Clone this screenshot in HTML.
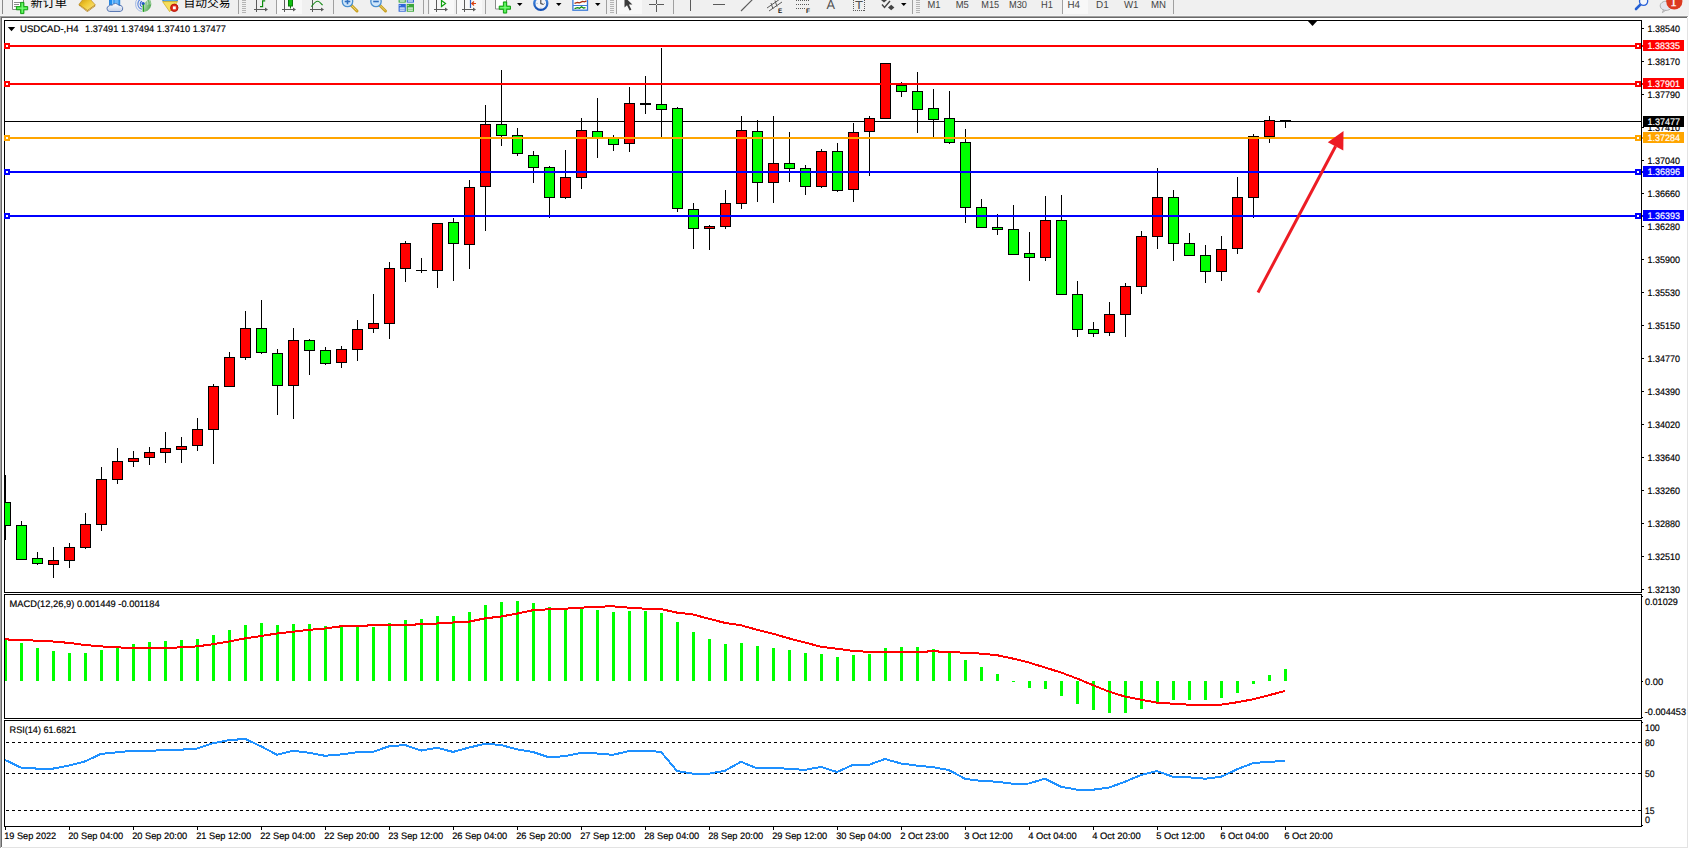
<!DOCTYPE html>
<html lang="zh"><head><meta charset="utf-8"><title>USDCAD-,H4</title>
<style>html,body{margin:0;padding:0;background:#fff}body{width:1689px;height:849px;overflow:hidden;position:relative}text{white-space:pre}</style></head>
<body>
<svg width="1689" height="849" viewBox="0 0 1689 849" font-family='"Liberation Sans", "Noto Sans CJK SC", sans-serif' text-rendering="geometricPrecision" style="position:absolute;left:0;top:0;display:block">
<defs><clipPath id="tbclip"><rect x="0" y="0" width="1689" height="15"/></clipPath><clipPath id="mainclip"><rect x="5" y="21" width="1636" height="571"/></clipPath></defs>
<rect x="0" y="0" width="1689" height="849" fill="#fff"/>
<g shape-rendering="crispEdges">
<rect x="0" y="0" width="1689" height="15" fill="#f0f0f0"/>
<rect x="0" y="15" width="1689" height="1" fill="#f4f4f4"/>
<rect x="0" y="16" width="1688" height="1" fill="#a0a0a0"/>
<rect x="0" y="17" width="1687" height="1" fill="#696969"/>
</g>
<g shape-rendering="crispEdges">
<rect x="0" y="16" width="1" height="832" fill="#a5a5a5"/>
<rect x="1" y="17" width="1" height="830" fill="#696969"/>
<rect x="1687" y="18" width="1" height="830" fill="#e3e3e3"/>
<rect x="2" y="847" width="1686" height="1" fill="#e3e3e3"/>
<rect x="4" y="20" width="1638" height="1" fill="#000"/>
<rect x="4" y="592" width="1638" height="1" fill="#000"/>
<rect x="4" y="20" width="1" height="573" fill="#000"/>
<rect x="1641" y="20" width="1" height="573" fill="#000"/>
<rect x="4" y="594" width="1638" height="1" fill="#000"/>
<rect x="4" y="718" width="1638" height="1" fill="#000"/>
<rect x="4" y="594" width="1" height="125" fill="#000"/>
<rect x="1641" y="594" width="1" height="125" fill="#000"/>
<rect x="4" y="720" width="1638" height="1" fill="#000"/>
<rect x="4" y="826" width="1638" height="1" fill="#000"/>
<rect x="4" y="720" width="1" height="107" fill="#000"/>
<rect x="1641" y="720" width="1" height="107" fill="#000"/>
</g>
<g shape-rendering="crispEdges">
<rect x="5" y="121" width="1636" height="1" fill="#000"/>
<polygon points="1307,20 1318,20 1312.5,26" fill="#000" shape-rendering="geometricPrecision"/>
<g clip-path="url(#mainclip)">
<rect x="5" y="475" width="1" height="65" fill="#000"/>
<rect x="0" y="502" width="11" height="24" fill="#000"/>
<rect x="1" y="503" width="9" height="22" fill="#00ff00"/>
<rect x="21" y="521" width="1" height="39" fill="#000"/>
<rect x="16" y="525" width="11" height="35" fill="#000"/>
<rect x="17" y="526" width="9" height="33" fill="#00ff00"/>
<rect x="37" y="552" width="1" height="13" fill="#000"/>
<rect x="32" y="558" width="11" height="6" fill="#000"/>
<rect x="33" y="559" width="9" height="4" fill="#00ff00"/>
<rect x="53" y="547" width="1" height="31" fill="#000"/>
<rect x="48" y="560" width="11" height="5" fill="#000"/>
<rect x="49" y="561" width="9" height="3" fill="#ff0000"/>
<rect x="69" y="543" width="1" height="25" fill="#000"/>
<rect x="64" y="547" width="11" height="14" fill="#000"/>
<rect x="65" y="548" width="9" height="12" fill="#ff0000"/>
<rect x="85" y="513" width="1" height="36" fill="#000"/>
<rect x="80" y="524" width="11" height="24" fill="#000"/>
<rect x="81" y="525" width="9" height="22" fill="#ff0000"/>
<rect x="101" y="467" width="1" height="64" fill="#000"/>
<rect x="96" y="479" width="11" height="46" fill="#000"/>
<rect x="97" y="480" width="9" height="44" fill="#ff0000"/>
<rect x="117" y="448" width="1" height="36" fill="#000"/>
<rect x="112" y="461" width="11" height="19" fill="#000"/>
<rect x="113" y="462" width="9" height="17" fill="#ff0000"/>
<rect x="133" y="451" width="1" height="16" fill="#000"/>
<rect x="128" y="458" width="11" height="4" fill="#000"/>
<rect x="129" y="459" width="9" height="2" fill="#ff0000"/>
<rect x="149" y="447" width="1" height="18" fill="#000"/>
<rect x="144" y="452" width="11" height="6" fill="#000"/>
<rect x="145" y="453" width="9" height="4" fill="#ff0000"/>
<rect x="165" y="432" width="1" height="31" fill="#000"/>
<rect x="160" y="448" width="11" height="5" fill="#000"/>
<rect x="161" y="449" width="9" height="3" fill="#ff0000"/>
<rect x="181" y="437" width="1" height="26" fill="#000"/>
<rect x="176" y="446" width="11" height="4" fill="#000"/>
<rect x="177" y="447" width="9" height="2" fill="#ff0000"/>
<rect x="197" y="418" width="1" height="33" fill="#000"/>
<rect x="192" y="429" width="11" height="17" fill="#000"/>
<rect x="193" y="430" width="9" height="15" fill="#ff0000"/>
<rect x="213" y="384" width="1" height="80" fill="#000"/>
<rect x="208" y="386" width="11" height="44" fill="#000"/>
<rect x="209" y="387" width="9" height="42" fill="#ff0000"/>
<rect x="229" y="352" width="1" height="35" fill="#000"/>
<rect x="224" y="357" width="11" height="30" fill="#000"/>
<rect x="225" y="358" width="9" height="28" fill="#ff0000"/>
<rect x="245" y="311" width="1" height="49" fill="#000"/>
<rect x="240" y="328" width="11" height="30" fill="#000"/>
<rect x="241" y="329" width="9" height="28" fill="#ff0000"/>
<rect x="261" y="300" width="1" height="54" fill="#000"/>
<rect x="256" y="328" width="11" height="25" fill="#000"/>
<rect x="257" y="329" width="9" height="23" fill="#00ff00"/>
<rect x="277" y="349" width="1" height="66" fill="#000"/>
<rect x="272" y="353" width="11" height="33" fill="#000"/>
<rect x="273" y="354" width="9" height="31" fill="#00ff00"/>
<rect x="293" y="328" width="1" height="91" fill="#000"/>
<rect x="288" y="340" width="11" height="46" fill="#000"/>
<rect x="289" y="341" width="9" height="44" fill="#ff0000"/>
<rect x="309" y="339" width="1" height="36" fill="#000"/>
<rect x="304" y="340" width="11" height="11" fill="#000"/>
<rect x="305" y="341" width="9" height="9" fill="#00ff00"/>
<rect x="325" y="347" width="1" height="18" fill="#000"/>
<rect x="320" y="350" width="11" height="14" fill="#000"/>
<rect x="321" y="351" width="9" height="12" fill="#00ff00"/>
<rect x="341" y="346" width="1" height="22" fill="#000"/>
<rect x="336" y="349" width="11" height="14" fill="#000"/>
<rect x="337" y="350" width="9" height="12" fill="#ff0000"/>
<rect x="357" y="320" width="1" height="41" fill="#000"/>
<rect x="352" y="329" width="11" height="21" fill="#000"/>
<rect x="353" y="330" width="9" height="19" fill="#ff0000"/>
<rect x="373" y="294" width="1" height="39" fill="#000"/>
<rect x="368" y="323" width="11" height="6" fill="#000"/>
<rect x="369" y="324" width="9" height="4" fill="#ff0000"/>
<rect x="389" y="262" width="1" height="77" fill="#000"/>
<rect x="384" y="268" width="11" height="56" fill="#000"/>
<rect x="385" y="269" width="9" height="54" fill="#ff0000"/>
<rect x="405" y="241" width="1" height="41" fill="#000"/>
<rect x="400" y="243" width="11" height="26" fill="#000"/>
<rect x="401" y="244" width="9" height="24" fill="#ff0000"/>
<rect x="421" y="258" width="1" height="15" fill="#000"/>
<rect x="416" y="270" width="11" height="1" fill="#000"/>
<rect x="437" y="223" width="1" height="65" fill="#000"/>
<rect x="432" y="223" width="11" height="48" fill="#000"/>
<rect x="433" y="224" width="9" height="46" fill="#ff0000"/>
<rect x="453" y="218" width="1" height="63" fill="#000"/>
<rect x="448" y="222" width="11" height="22" fill="#000"/>
<rect x="449" y="223" width="9" height="20" fill="#00ff00"/>
<rect x="469" y="180" width="1" height="89" fill="#000"/>
<rect x="464" y="187" width="11" height="58" fill="#000"/>
<rect x="465" y="188" width="9" height="56" fill="#ff0000"/>
<rect x="485" y="105" width="1" height="126" fill="#000"/>
<rect x="480" y="124" width="11" height="63" fill="#000"/>
<rect x="481" y="125" width="9" height="61" fill="#ff0000"/>
<rect x="501" y="70" width="1" height="76" fill="#000"/>
<rect x="496" y="124" width="11" height="12" fill="#000"/>
<rect x="497" y="125" width="9" height="10" fill="#00ff00"/>
<rect x="517" y="128" width="1" height="28" fill="#000"/>
<rect x="512" y="135" width="11" height="19" fill="#000"/>
<rect x="513" y="136" width="9" height="17" fill="#00ff00"/>
<rect x="533" y="151" width="1" height="32" fill="#000"/>
<rect x="528" y="155" width="11" height="13" fill="#000"/>
<rect x="529" y="156" width="9" height="11" fill="#00ff00"/>
<rect x="549" y="166" width="1" height="52" fill="#000"/>
<rect x="544" y="167" width="11" height="31" fill="#000"/>
<rect x="545" y="168" width="9" height="29" fill="#00ff00"/>
<rect x="565" y="150" width="1" height="49" fill="#000"/>
<rect x="560" y="177" width="11" height="21" fill="#000"/>
<rect x="561" y="178" width="9" height="19" fill="#ff0000"/>
<rect x="581" y="118" width="1" height="71" fill="#000"/>
<rect x="576" y="130" width="11" height="48" fill="#000"/>
<rect x="577" y="131" width="9" height="46" fill="#ff0000"/>
<rect x="597" y="98" width="1" height="60" fill="#000"/>
<rect x="592" y="131" width="11" height="7" fill="#000"/>
<rect x="593" y="132" width="9" height="5" fill="#00ff00"/>
<rect x="613" y="135" width="1" height="16" fill="#000"/>
<rect x="608" y="137" width="11" height="8" fill="#000"/>
<rect x="609" y="138" width="9" height="6" fill="#00ff00"/>
<rect x="629" y="87" width="1" height="65" fill="#000"/>
<rect x="624" y="103" width="11" height="41" fill="#000"/>
<rect x="625" y="104" width="9" height="39" fill="#ff0000"/>
<rect x="645" y="76" width="1" height="38" fill="#000"/>
<rect x="640" y="103" width="11" height="2" fill="#000"/>
<rect x="661" y="48" width="1" height="89" fill="#000"/>
<rect x="656" y="104" width="11" height="6" fill="#000"/>
<rect x="657" y="105" width="9" height="4" fill="#00ff00"/>
<rect x="677" y="107" width="1" height="105" fill="#000"/>
<rect x="672" y="108" width="11" height="101" fill="#000"/>
<rect x="673" y="109" width="9" height="99" fill="#00ff00"/>
<rect x="693" y="203" width="1" height="46" fill="#000"/>
<rect x="688" y="209" width="11" height="20" fill="#000"/>
<rect x="689" y="210" width="9" height="18" fill="#00ff00"/>
<rect x="709" y="225" width="1" height="25" fill="#000"/>
<rect x="704" y="226" width="11" height="3" fill="#000"/>
<rect x="705" y="227" width="9" height="1" fill="#ff0000"/>
<rect x="725" y="190" width="1" height="39" fill="#000"/>
<rect x="720" y="203" width="11" height="24" fill="#000"/>
<rect x="721" y="204" width="9" height="22" fill="#ff0000"/>
<rect x="741" y="116" width="1" height="93" fill="#000"/>
<rect x="736" y="130" width="11" height="74" fill="#000"/>
<rect x="737" y="131" width="9" height="72" fill="#ff0000"/>
<rect x="757" y="120" width="1" height="82" fill="#000"/>
<rect x="752" y="131" width="11" height="52" fill="#000"/>
<rect x="753" y="132" width="9" height="50" fill="#00ff00"/>
<rect x="773" y="116" width="1" height="87" fill="#000"/>
<rect x="768" y="163" width="11" height="20" fill="#000"/>
<rect x="769" y="164" width="9" height="18" fill="#ff0000"/>
<rect x="789" y="132" width="1" height="50" fill="#000"/>
<rect x="784" y="163" width="11" height="6" fill="#000"/>
<rect x="785" y="164" width="9" height="4" fill="#00ff00"/>
<rect x="805" y="165" width="1" height="30" fill="#000"/>
<rect x="800" y="168" width="11" height="19" fill="#000"/>
<rect x="801" y="169" width="9" height="17" fill="#00ff00"/>
<rect x="821" y="149" width="1" height="39" fill="#000"/>
<rect x="816" y="151" width="11" height="36" fill="#000"/>
<rect x="817" y="152" width="9" height="34" fill="#ff0000"/>
<rect x="837" y="143" width="1" height="49" fill="#000"/>
<rect x="832" y="151" width="11" height="40" fill="#000"/>
<rect x="833" y="152" width="9" height="38" fill="#00ff00"/>
<rect x="853" y="123" width="1" height="79" fill="#000"/>
<rect x="848" y="132" width="11" height="58" fill="#000"/>
<rect x="849" y="133" width="9" height="56" fill="#ff0000"/>
<rect x="869" y="116" width="1" height="60" fill="#000"/>
<rect x="864" y="118" width="11" height="14" fill="#000"/>
<rect x="865" y="119" width="9" height="12" fill="#ff0000"/>
<rect x="885" y="63" width="1" height="56" fill="#000"/>
<rect x="880" y="63" width="11" height="56" fill="#000"/>
<rect x="881" y="64" width="9" height="54" fill="#ff0000"/>
<rect x="901" y="82" width="1" height="15" fill="#000"/>
<rect x="896" y="85" width="11" height="7" fill="#000"/>
<rect x="897" y="86" width="9" height="5" fill="#00ff00"/>
<rect x="917" y="72" width="1" height="61" fill="#000"/>
<rect x="912" y="91" width="11" height="19" fill="#000"/>
<rect x="913" y="92" width="9" height="17" fill="#00ff00"/>
<rect x="933" y="89" width="1" height="48" fill="#000"/>
<rect x="928" y="108" width="11" height="12" fill="#000"/>
<rect x="929" y="109" width="9" height="10" fill="#00ff00"/>
<rect x="949" y="91" width="1" height="53" fill="#000"/>
<rect x="944" y="118" width="11" height="25" fill="#000"/>
<rect x="945" y="119" width="9" height="23" fill="#00ff00"/>
<rect x="965" y="129" width="1" height="94" fill="#000"/>
<rect x="960" y="142" width="11" height="66" fill="#000"/>
<rect x="961" y="143" width="9" height="64" fill="#00ff00"/>
<rect x="981" y="199" width="1" height="29" fill="#000"/>
<rect x="976" y="207" width="11" height="21" fill="#000"/>
<rect x="977" y="208" width="9" height="19" fill="#00ff00"/>
<rect x="997" y="214" width="1" height="21" fill="#000"/>
<rect x="992" y="227" width="11" height="3" fill="#000"/>
<rect x="993" y="228" width="9" height="1" fill="#00ff00"/>
<rect x="1013" y="205" width="1" height="50" fill="#000"/>
<rect x="1008" y="229" width="11" height="26" fill="#000"/>
<rect x="1009" y="230" width="9" height="24" fill="#00ff00"/>
<rect x="1029" y="232" width="1" height="49" fill="#000"/>
<rect x="1024" y="253" width="11" height="5" fill="#000"/>
<rect x="1025" y="254" width="9" height="3" fill="#00ff00"/>
<rect x="1045" y="196" width="1" height="65" fill="#000"/>
<rect x="1040" y="220" width="11" height="38" fill="#000"/>
<rect x="1041" y="221" width="9" height="36" fill="#ff0000"/>
<rect x="1061" y="195" width="1" height="100" fill="#000"/>
<rect x="1056" y="220" width="11" height="75" fill="#000"/>
<rect x="1057" y="221" width="9" height="73" fill="#00ff00"/>
<rect x="1077" y="281" width="1" height="56" fill="#000"/>
<rect x="1072" y="294" width="11" height="36" fill="#000"/>
<rect x="1073" y="295" width="9" height="34" fill="#00ff00"/>
<rect x="1093" y="322" width="1" height="15" fill="#000"/>
<rect x="1088" y="329" width="11" height="5" fill="#000"/>
<rect x="1089" y="330" width="9" height="3" fill="#00ff00"/>
<rect x="1109" y="302" width="1" height="34" fill="#000"/>
<rect x="1104" y="314" width="11" height="19" fill="#000"/>
<rect x="1105" y="315" width="9" height="17" fill="#ff0000"/>
<rect x="1125" y="283" width="1" height="54" fill="#000"/>
<rect x="1120" y="286" width="11" height="29" fill="#000"/>
<rect x="1121" y="287" width="9" height="27" fill="#ff0000"/>
<rect x="1141" y="231" width="1" height="63" fill="#000"/>
<rect x="1136" y="236" width="11" height="51" fill="#000"/>
<rect x="1137" y="237" width="9" height="49" fill="#ff0000"/>
<rect x="1157" y="168" width="1" height="81" fill="#000"/>
<rect x="1152" y="197" width="11" height="40" fill="#000"/>
<rect x="1153" y="198" width="9" height="38" fill="#ff0000"/>
<rect x="1173" y="190" width="1" height="71" fill="#000"/>
<rect x="1168" y="197" width="11" height="47" fill="#000"/>
<rect x="1169" y="198" width="9" height="45" fill="#00ff00"/>
<rect x="1189" y="233" width="1" height="23" fill="#000"/>
<rect x="1184" y="243" width="11" height="13" fill="#000"/>
<rect x="1185" y="244" width="9" height="11" fill="#00ff00"/>
<rect x="1205" y="245" width="1" height="38" fill="#000"/>
<rect x="1200" y="255" width="11" height="17" fill="#000"/>
<rect x="1201" y="256" width="9" height="15" fill="#00ff00"/>
<rect x="1221" y="236" width="1" height="45" fill="#000"/>
<rect x="1216" y="249" width="11" height="23" fill="#000"/>
<rect x="1217" y="250" width="9" height="21" fill="#ff0000"/>
<rect x="1237" y="177" width="1" height="77" fill="#000"/>
<rect x="1232" y="197" width="11" height="52" fill="#000"/>
<rect x="1233" y="198" width="9" height="50" fill="#ff0000"/>
<rect x="1253" y="134" width="1" height="84" fill="#000"/>
<rect x="1248" y="136" width="11" height="62" fill="#000"/>
<rect x="1249" y="137" width="9" height="60" fill="#ff0000"/>
<rect x="1269" y="116" width="1" height="27" fill="#000"/>
<rect x="1264" y="120" width="11" height="17" fill="#000"/>
<rect x="1265" y="121" width="9" height="15" fill="#ff0000"/>
<rect x="1285" y="120" width="1" height="8" fill="#000"/>
<rect x="1280" y="120" width="11" height="1" fill="#000"/>
</g>
<rect x="5" y="45" width="1638" height="2" fill="#ff0000"/>
<rect x="4" y="43" width="6" height="6" fill="#ff0000"/>
<rect x="6" y="45" width="2" height="2" fill="#fff"/>
<rect x="1635" y="43" width="6" height="6" fill="#ff0000"/>
<rect x="1637" y="45" width="2" height="2" fill="#fff"/>
<rect x="5" y="83" width="1638" height="2" fill="#ff0000"/>
<rect x="4" y="81" width="6" height="6" fill="#ff0000"/>
<rect x="6" y="83" width="2" height="2" fill="#fff"/>
<rect x="1635" y="81" width="6" height="6" fill="#ff0000"/>
<rect x="1637" y="83" width="2" height="2" fill="#fff"/>
<rect x="5" y="137" width="1638" height="2" fill="#ffa500"/>
<rect x="4" y="135" width="6" height="6" fill="#ffa500"/>
<rect x="6" y="137" width="2" height="2" fill="#fff"/>
<rect x="1635" y="135" width="6" height="6" fill="#ffa500"/>
<rect x="1637" y="137" width="2" height="2" fill="#fff"/>
<rect x="5" y="171" width="1638" height="2" fill="#0000ff"/>
<rect x="4" y="169" width="6" height="6" fill="#0000ff"/>
<rect x="6" y="171" width="2" height="2" fill="#fff"/>
<rect x="1635" y="169" width="6" height="6" fill="#0000ff"/>
<rect x="1637" y="171" width="2" height="2" fill="#fff"/>
<rect x="5" y="215" width="1638" height="2" fill="#0000ff"/>
<rect x="4" y="213" width="6" height="6" fill="#0000ff"/>
<rect x="6" y="215" width="2" height="2" fill="#fff"/>
<rect x="1635" y="213" width="6" height="6" fill="#0000ff"/>
<rect x="1637" y="215" width="2" height="2" fill="#fff"/>
<rect x="1641" y="20" width="1" height="573" fill="#000"/>
<rect x="1642" y="28" width="2" height="1" fill="#000"/>
<rect x="1642" y="61" width="2" height="1" fill="#000"/>
<rect x="1642" y="94" width="2" height="1" fill="#000"/>
<rect x="1642" y="127" width="2" height="1" fill="#000"/>
<rect x="1642" y="160" width="2" height="1" fill="#000"/>
<rect x="1642" y="193" width="2" height="1" fill="#000"/>
<rect x="1642" y="226" width="2" height="1" fill="#000"/>
<rect x="1642" y="259" width="2" height="1" fill="#000"/>
<rect x="1642" y="292" width="2" height="1" fill="#000"/>
<rect x="1642" y="325" width="2" height="1" fill="#000"/>
<rect x="1642" y="358" width="2" height="1" fill="#000"/>
<rect x="1642" y="391" width="2" height="1" fill="#000"/>
<rect x="1642" y="424" width="2" height="1" fill="#000"/>
<rect x="1642" y="457" width="2" height="1" fill="#000"/>
<rect x="1642" y="490" width="2" height="1" fill="#000"/>
<rect x="1642" y="523" width="2" height="1" fill="#000"/>
<rect x="1642" y="556" width="2" height="1" fill="#000"/>
<rect x="1642" y="589" width="2" height="1" fill="#000"/>
</g>
<text x="1647.5" y="31.65" font-size="9.4" fill="#000" textLength="32.5" lengthAdjust="spacingAndGlyphs" stroke="#000" stroke-width="0.18">1.38540</text>
<text x="1647.5" y="64.65" font-size="9.4" fill="#000" textLength="32.5" lengthAdjust="spacingAndGlyphs" stroke="#000" stroke-width="0.18">1.38170</text>
<text x="1647.5" y="97.65" font-size="9.4" fill="#000" textLength="32.5" lengthAdjust="spacingAndGlyphs" stroke="#000" stroke-width="0.18">1.37790</text>
<text x="1647.5" y="130.65" font-size="9.4" fill="#000" textLength="32.5" lengthAdjust="spacingAndGlyphs" stroke="#000" stroke-width="0.18">1.37410</text>
<text x="1647.5" y="163.65" font-size="9.4" fill="#000" textLength="32.5" lengthAdjust="spacingAndGlyphs" stroke="#000" stroke-width="0.18">1.37040</text>
<text x="1647.5" y="196.65" font-size="9.4" fill="#000" textLength="32.5" lengthAdjust="spacingAndGlyphs" stroke="#000" stroke-width="0.18">1.36660</text>
<text x="1647.5" y="229.65" font-size="9.4" fill="#000" textLength="32.5" lengthAdjust="spacingAndGlyphs" stroke="#000" stroke-width="0.18">1.36280</text>
<text x="1647.5" y="262.65" font-size="9.4" fill="#000" textLength="32.5" lengthAdjust="spacingAndGlyphs" stroke="#000" stroke-width="0.18">1.35900</text>
<text x="1647.5" y="295.65" font-size="9.4" fill="#000" textLength="32.5" lengthAdjust="spacingAndGlyphs" stroke="#000" stroke-width="0.18">1.35530</text>
<text x="1647.5" y="328.65" font-size="9.4" fill="#000" textLength="32.5" lengthAdjust="spacingAndGlyphs" stroke="#000" stroke-width="0.18">1.35150</text>
<text x="1647.5" y="361.65" font-size="9.4" fill="#000" textLength="32.5" lengthAdjust="spacingAndGlyphs" stroke="#000" stroke-width="0.18">1.34770</text>
<text x="1647.5" y="394.65" font-size="9.4" fill="#000" textLength="32.5" lengthAdjust="spacingAndGlyphs" stroke="#000" stroke-width="0.18">1.34390</text>
<text x="1647.5" y="427.65" font-size="9.4" fill="#000" textLength="32.5" lengthAdjust="spacingAndGlyphs" stroke="#000" stroke-width="0.18">1.34020</text>
<text x="1647.5" y="460.65" font-size="9.4" fill="#000" textLength="32.5" lengthAdjust="spacingAndGlyphs" stroke="#000" stroke-width="0.18">1.33640</text>
<text x="1647.5" y="493.65" font-size="9.4" fill="#000" textLength="32.5" lengthAdjust="spacingAndGlyphs" stroke="#000" stroke-width="0.18">1.33260</text>
<text x="1647.5" y="526.65" font-size="9.4" fill="#000" textLength="32.5" lengthAdjust="spacingAndGlyphs" stroke="#000" stroke-width="0.18">1.32880</text>
<text x="1647.5" y="559.65" font-size="9.4" fill="#000" textLength="32.5" lengthAdjust="spacingAndGlyphs" stroke="#000" stroke-width="0.18">1.32510</text>
<text x="1647.5" y="592.65" font-size="9.4" fill="#000" textLength="32.5" lengthAdjust="spacingAndGlyphs" stroke="#000" stroke-width="0.18">1.32130</text>
<g shape-rendering="crispEdges">
<rect x="1643" y="116" width="41" height="11" fill="#000"/>
<rect x="1643" y="40" width="41" height="11" fill="#ff0000"/>
<rect x="1643" y="78" width="41" height="11" fill="#ff0000"/>
<rect x="1643" y="132" width="41" height="11" fill="#ffa500"/>
<rect x="1643" y="166" width="41" height="11" fill="#0000ff"/>
<rect x="1643" y="210" width="41" height="11" fill="#0000ff"/>
</g>
<text x="1647.5" y="124.65" font-size="9.4" fill="#fff" textLength="32.5" lengthAdjust="spacingAndGlyphs" stroke="#fff" stroke-width="0.18">1.37477</text>
<text x="1647.5" y="48.65" font-size="9.4" fill="#fff" textLength="32.5" lengthAdjust="spacingAndGlyphs" stroke="#fff" stroke-width="0.18">1.38335</text>
<text x="1647.5" y="86.65" font-size="9.4" fill="#fff" textLength="32.5" lengthAdjust="spacingAndGlyphs" stroke="#fff" stroke-width="0.18">1.37901</text>
<text x="1647.5" y="140.65" font-size="9.4" fill="#fff" textLength="32.5" lengthAdjust="spacingAndGlyphs" stroke="#fff" stroke-width="0.18">1.37284</text>
<text x="1647.5" y="174.65" font-size="9.4" fill="#fff" textLength="32.5" lengthAdjust="spacingAndGlyphs" stroke="#fff" stroke-width="0.18">1.36896</text>
<text x="1647.5" y="218.65" font-size="9.4" fill="#fff" textLength="32.5" lengthAdjust="spacingAndGlyphs" stroke="#fff" stroke-width="0.18">1.36393</text>
<polygon points="7.8,27 15.2,27 11.5,31.2" fill="#000"/>
<text x="20" y="32" font-size="9.4" fill="#000" textLength="58.5" lengthAdjust="spacingAndGlyphs" stroke="#000" stroke-width="0.18">USDCAD-,H4</text>
<text x="85" y="32" font-size="9.4" fill="#000" textLength="141" lengthAdjust="spacingAndGlyphs" stroke="#000" stroke-width="0.18">1.37491 1.37494 1.37410 1.37477</text>
<g fill="#ed1c24" stroke="none">
<line x1="1258" y1="292.5" x2="1335.6" y2="146.2" stroke="#ed1c24" stroke-width="3"/>
<polygon points="1343.5,131 1327.8,142.3 1343.3,150.4"/>
</g>
<g shape-rendering="crispEdges">
<rect x="4" y="639" width="3" height="42" fill="#00ff00"/>
<rect x="20" y="643" width="3" height="38" fill="#00ff00"/>
<rect x="36" y="648" width="3" height="33" fill="#00ff00"/>
<rect x="52" y="651" width="3" height="30" fill="#00ff00"/>
<rect x="68" y="653" width="3" height="28" fill="#00ff00"/>
<rect x="84" y="653" width="3" height="28" fill="#00ff00"/>
<rect x="100" y="650" width="3" height="31" fill="#00ff00"/>
<rect x="116" y="647" width="3" height="34" fill="#00ff00"/>
<rect x="132" y="644" width="3" height="37" fill="#00ff00"/>
<rect x="148" y="642" width="3" height="39" fill="#00ff00"/>
<rect x="164" y="641" width="3" height="40" fill="#00ff00"/>
<rect x="180" y="640" width="3" height="41" fill="#00ff00"/>
<rect x="196" y="639" width="3" height="42" fill="#00ff00"/>
<rect x="212" y="635" width="3" height="46" fill="#00ff00"/>
<rect x="228" y="630" width="3" height="51" fill="#00ff00"/>
<rect x="244" y="625" width="3" height="56" fill="#00ff00"/>
<rect x="260" y="623" width="3" height="58" fill="#00ff00"/>
<rect x="276" y="625" width="3" height="56" fill="#00ff00"/>
<rect x="292" y="624" width="3" height="57" fill="#00ff00"/>
<rect x="308" y="624" width="3" height="57" fill="#00ff00"/>
<rect x="324" y="626" width="3" height="55" fill="#00ff00"/>
<rect x="340" y="627" width="3" height="54" fill="#00ff00"/>
<rect x="356" y="627" width="3" height="54" fill="#00ff00"/>
<rect x="372" y="627" width="3" height="54" fill="#00ff00"/>
<rect x="388" y="623" width="3" height="58" fill="#00ff00"/>
<rect x="404" y="620" width="3" height="61" fill="#00ff00"/>
<rect x="420" y="619" width="3" height="62" fill="#00ff00"/>
<rect x="436" y="616" width="3" height="65" fill="#00ff00"/>
<rect x="452" y="616" width="3" height="65" fill="#00ff00"/>
<rect x="468" y="612" width="3" height="69" fill="#00ff00"/>
<rect x="484" y="605" width="3" height="76" fill="#00ff00"/>
<rect x="500" y="602" width="3" height="79" fill="#00ff00"/>
<rect x="516" y="601" width="3" height="80" fill="#00ff00"/>
<rect x="532" y="603" width="3" height="78" fill="#00ff00"/>
<rect x="548" y="607" width="3" height="74" fill="#00ff00"/>
<rect x="564" y="610" width="3" height="71" fill="#00ff00"/>
<rect x="580" y="609" width="3" height="72" fill="#00ff00"/>
<rect x="596" y="610" width="3" height="71" fill="#00ff00"/>
<rect x="612" y="612" width="3" height="69" fill="#00ff00"/>
<rect x="628" y="611" width="3" height="70" fill="#00ff00"/>
<rect x="644" y="611" width="3" height="70" fill="#00ff00"/>
<rect x="660" y="613" width="3" height="68" fill="#00ff00"/>
<rect x="676" y="622" width="3" height="59" fill="#00ff00"/>
<rect x="692" y="632" width="3" height="49" fill="#00ff00"/>
<rect x="708" y="639" width="3" height="42" fill="#00ff00"/>
<rect x="724" y="644" width="3" height="37" fill="#00ff00"/>
<rect x="740" y="643" width="3" height="38" fill="#00ff00"/>
<rect x="756" y="646" width="3" height="35" fill="#00ff00"/>
<rect x="772" y="648" width="3" height="33" fill="#00ff00"/>
<rect x="788" y="650" width="3" height="31" fill="#00ff00"/>
<rect x="804" y="653" width="3" height="28" fill="#00ff00"/>
<rect x="820" y="654" width="3" height="27" fill="#00ff00"/>
<rect x="836" y="657" width="3" height="24" fill="#00ff00"/>
<rect x="852" y="655" width="3" height="26" fill="#00ff00"/>
<rect x="868" y="654" width="3" height="27" fill="#00ff00"/>
<rect x="884" y="648" width="3" height="33" fill="#00ff00"/>
<rect x="900" y="647" width="3" height="34" fill="#00ff00"/>
<rect x="916" y="647" width="3" height="34" fill="#00ff00"/>
<rect x="932" y="649" width="3" height="32" fill="#00ff00"/>
<rect x="948" y="652" width="3" height="29" fill="#00ff00"/>
<rect x="964" y="660" width="3" height="21" fill="#00ff00"/>
<rect x="980" y="667" width="3" height="14" fill="#00ff00"/>
<rect x="996" y="674" width="3" height="7" fill="#00ff00"/>
<rect x="1012" y="681" width="3" height="1" fill="#00ff00"/>
<rect x="1028" y="681" width="3" height="7" fill="#00ff00"/>
<rect x="1044" y="681" width="3" height="8" fill="#00ff00"/>
<rect x="1060" y="681" width="3" height="15" fill="#00ff00"/>
<rect x="1076" y="681" width="3" height="23" fill="#00ff00"/>
<rect x="1092" y="681" width="3" height="29" fill="#00ff00"/>
<rect x="1108" y="681" width="3" height="32" fill="#00ff00"/>
<rect x="1124" y="681" width="3" height="32" fill="#00ff00"/>
<rect x="1140" y="681" width="3" height="28" fill="#00ff00"/>
<rect x="1156" y="681" width="3" height="21" fill="#00ff00"/>
<rect x="1172" y="681" width="3" height="19" fill="#00ff00"/>
<rect x="1188" y="681" width="3" height="19" fill="#00ff00"/>
<rect x="1204" y="681" width="3" height="19" fill="#00ff00"/>
<rect x="1220" y="681" width="3" height="17" fill="#00ff00"/>
<rect x="1236" y="681" width="3" height="12" fill="#00ff00"/>
<rect x="1252" y="681" width="3" height="3" fill="#00ff00"/>
<rect x="1268" y="675" width="3" height="6" fill="#00ff00"/>
<rect x="1284" y="669" width="3" height="12" fill="#00ff00"/>
<polyline points="5,639.4 21,639.9 37,640.7 53,641.5 69,642.9 85,645.0 101,646.4 117,647.4 133,647.8 149,647.8 165,647.8 181,647.4 197,646.4 213,644.2 229,641.5 245,638.4 261,636.0 277,633.5 293,631.7 309,629.8 325,628.5 341,626.3 357,625.9 373,625.3 389,624.9 405,624.9 421,624.3 437,623.5 453,622.5 469,621.6 485,618.4 501,616.5 517,613.6 533,610.2 549,609.3 565,608.7 581,607.7 597,606.7 613,606.3 629,607.7 645,608.7 661,609.1 677,612.6 693,614.5 709,618.8 725,622.9 741,625.3 757,629.8 773,633.7 789,638.4 805,642.5 821,646.8 837,648.7 853,650.9 869,651.9 885,651.9 901,651.9 917,651.9 933,651.3 949,651.9 965,652.8 981,653.6 997,655.2 1013,658.6 1029,662.6 1045,667.5 1061,672.5 1077,678.5 1093,685.2 1109,691.6 1125,696.6 1141,699.7 1157,702.7 1173,703.7 1189,704.7 1205,704.7 1221,704.7 1237,702.3 1253,699.3 1269,695.2 1285,691.0" fill="none" stroke="#ff0000" stroke-width="2" stroke-linejoin="round"/>
<rect x="4" y="594" width="1" height="125" fill="#000"/>
<rect x="1642" y="681" width="1" height="1" fill="#000"/>
<rect x="1642" y="596" width="1" height="1" fill="#000"/>
<rect x="1642" y="717" width="1" height="1" fill="#000"/>
</g>
<text x="9.6" y="607" font-size="9.4" fill="#000" textLength="150" lengthAdjust="spacingAndGlyphs" stroke="#000" stroke-width="0.18">MACD(12,26,9) 0.001449 -0.001184</text>
<text x="1645" y="604.8" font-size="9.4" fill="#000" textLength="32.8" lengthAdjust="spacingAndGlyphs" stroke="#000" stroke-width="0.18">0.01029</text>
<text x="1645" y="685" font-size="9.4" fill="#000" textLength="18.2" lengthAdjust="spacingAndGlyphs" stroke="#000" stroke-width="0.18">0.00</text>
<text x="1644.8" y="714.8" font-size="9.4" fill="#000" textLength="41.2" lengthAdjust="spacingAndGlyphs" stroke="#000" stroke-width="0.18">-0.004453</text>
<g shape-rendering="crispEdges">
<line x1="6" y1="742.5" x2="1641" y2="742.5" stroke="#000" stroke-width="1" stroke-dasharray="3 3"/>
<line x1="6" y1="773.5" x2="1641" y2="773.5" stroke="#000" stroke-width="1" stroke-dasharray="3 3"/>
<line x1="6" y1="810.5" x2="1641" y2="810.5" stroke="#000" stroke-width="1" stroke-dasharray="3 3"/>
<rect x="1642" y="722" width="1" height="1" fill="#000"/>
<rect x="1642" y="825" width="1" height="1" fill="#000"/>
<polyline points="5,759.9 21,767.6 37,768.6 53,768.6 69,765.6 85,761.4 101,753.9 117,752.3 133,750.7 149,750.6 165,750.4 181,749.7 197,748.5 213,743.2 229,740.2 245,738.9 261,746.3 277,754.8 293,750.7 309,752.7 325,755.8 341,754.4 357,752.3 373,751.9 389,746.3 405,745.0 421,750.6 437,747.8 453,751.9 469,747.6 485,743.7 501,745.0 517,749.3 533,752.0 549,757.4 565,756.1 581,752.9 597,753.5 613,754.8 629,751.0 645,750.6 661,751.9 677,771.0 693,773.7 709,773.7 725,770.7 741,761.8 757,768.4 773,767.9 789,768.8 805,769.9 821,766.9 837,772.0 853,764.8 869,764.8 885,759.0 901,763.5 917,765.6 933,767.2 949,770.1 965,778.8 981,780.9 997,781.7 1013,783.8 1029,783.5 1045,778.7 1061,786.7 1077,789.7 1093,789.7 1109,787.6 1125,781.7 1141,775.0 1157,771.1 1173,776.8 1189,777.3 1205,778.7 1221,776.8 1237,769.3 1253,763.1 1269,761.8 1285,761.0" fill="none" stroke="#1e90ff" stroke-width="2" stroke-linejoin="round"/>
<rect x="4" y="720" width="1" height="107" fill="#000"/>
<rect x="5" y="827" width="1" height="3" fill="#000"/>
<rect x="69" y="827" width="1" height="3" fill="#000"/>
<rect x="133" y="827" width="1" height="3" fill="#000"/>
<rect x="197" y="827" width="1" height="3" fill="#000"/>
<rect x="261" y="827" width="1" height="3" fill="#000"/>
<rect x="325" y="827" width="1" height="3" fill="#000"/>
<rect x="389" y="827" width="1" height="3" fill="#000"/>
<rect x="453" y="827" width="1" height="3" fill="#000"/>
<rect x="517" y="827" width="1" height="3" fill="#000"/>
<rect x="581" y="827" width="1" height="3" fill="#000"/>
<rect x="645" y="827" width="1" height="3" fill="#000"/>
<rect x="709" y="827" width="1" height="3" fill="#000"/>
<rect x="773" y="827" width="1" height="3" fill="#000"/>
<rect x="837" y="827" width="1" height="3" fill="#000"/>
<rect x="901" y="827" width="1" height="3" fill="#000"/>
<rect x="965" y="827" width="1" height="3" fill="#000"/>
<rect x="1029" y="827" width="1" height="3" fill="#000"/>
<rect x="1093" y="827" width="1" height="3" fill="#000"/>
<rect x="1157" y="827" width="1" height="3" fill="#000"/>
<rect x="1221" y="827" width="1" height="3" fill="#000"/>
<rect x="1285" y="827" width="1" height="3" fill="#000"/>
</g>
<text x="9.6" y="733" font-size="9.4" fill="#000" textLength="66.8" lengthAdjust="spacingAndGlyphs" stroke="#000" stroke-width="0.18">RSI(14) 61.6821</text>
<text x="1645" y="731.3" font-size="9.4" fill="#000" textLength="14.8" lengthAdjust="spacingAndGlyphs" stroke="#000" stroke-width="0.18">100</text>
<text x="1645" y="746" font-size="9.4" fill="#000" textLength="9.6" lengthAdjust="spacingAndGlyphs" stroke="#000" stroke-width="0.18">80</text>
<text x="1645" y="777" font-size="9.4" fill="#000" textLength="9.6" lengthAdjust="spacingAndGlyphs" stroke="#000" stroke-width="0.18">50</text>
<text x="1645" y="814" font-size="9.4" fill="#000" textLength="9.6" lengthAdjust="spacingAndGlyphs" stroke="#000" stroke-width="0.18">15</text>
<text x="1645" y="822.6" font-size="9.4" fill="#000" textLength="5" lengthAdjust="spacingAndGlyphs" stroke="#000" stroke-width="0.18">0</text>
<text x="4.2" y="839" font-size="9.4" fill="#000" textLength="52" lengthAdjust="spacingAndGlyphs" stroke="#000" stroke-width="0.18">19 Sep 2022</text>
<text x="68.2" y="839" font-size="9.4" fill="#000" textLength="55" lengthAdjust="spacingAndGlyphs" stroke="#000" stroke-width="0.18">20 Sep 04:00</text>
<text x="132.2" y="839" font-size="9.4" fill="#000" textLength="55" lengthAdjust="spacingAndGlyphs" stroke="#000" stroke-width="0.18">20 Sep 20:00</text>
<text x="196.2" y="839" font-size="9.4" fill="#000" textLength="55" lengthAdjust="spacingAndGlyphs" stroke="#000" stroke-width="0.18">21 Sep 12:00</text>
<text x="260.2" y="839" font-size="9.4" fill="#000" textLength="55" lengthAdjust="spacingAndGlyphs" stroke="#000" stroke-width="0.18">22 Sep 04:00</text>
<text x="324.2" y="839" font-size="9.4" fill="#000" textLength="55" lengthAdjust="spacingAndGlyphs" stroke="#000" stroke-width="0.18">22 Sep 20:00</text>
<text x="388.2" y="839" font-size="9.4" fill="#000" textLength="55" lengthAdjust="spacingAndGlyphs" stroke="#000" stroke-width="0.18">23 Sep 12:00</text>
<text x="452.2" y="839" font-size="9.4" fill="#000" textLength="55" lengthAdjust="spacingAndGlyphs" stroke="#000" stroke-width="0.18">26 Sep 04:00</text>
<text x="516.2" y="839" font-size="9.4" fill="#000" textLength="55" lengthAdjust="spacingAndGlyphs" stroke="#000" stroke-width="0.18">26 Sep 20:00</text>
<text x="580.2" y="839" font-size="9.4" fill="#000" textLength="55" lengthAdjust="spacingAndGlyphs" stroke="#000" stroke-width="0.18">27 Sep 12:00</text>
<text x="644.2" y="839" font-size="9.4" fill="#000" textLength="55" lengthAdjust="spacingAndGlyphs" stroke="#000" stroke-width="0.18">28 Sep 04:00</text>
<text x="708.2" y="839" font-size="9.4" fill="#000" textLength="55" lengthAdjust="spacingAndGlyphs" stroke="#000" stroke-width="0.18">28 Sep 20:00</text>
<text x="772.2" y="839" font-size="9.4" fill="#000" textLength="55" lengthAdjust="spacingAndGlyphs" stroke="#000" stroke-width="0.18">29 Sep 12:00</text>
<text x="836.2" y="839" font-size="9.4" fill="#000" textLength="55" lengthAdjust="spacingAndGlyphs" stroke="#000" stroke-width="0.18">30 Sep 04:00</text>
<text x="900.2" y="839" font-size="9.4" fill="#000" textLength="48.5" lengthAdjust="spacingAndGlyphs" stroke="#000" stroke-width="0.18">2 Oct 23:00</text>
<text x="964.2" y="839" font-size="9.4" fill="#000" textLength="48.5" lengthAdjust="spacingAndGlyphs" stroke="#000" stroke-width="0.18">3 Oct 12:00</text>
<text x="1028.2" y="839" font-size="9.4" fill="#000" textLength="48.5" lengthAdjust="spacingAndGlyphs" stroke="#000" stroke-width="0.18">4 Oct 04:00</text>
<text x="1092.2" y="839" font-size="9.4" fill="#000" textLength="48.5" lengthAdjust="spacingAndGlyphs" stroke="#000" stroke-width="0.18">4 Oct 20:00</text>
<text x="1156.2" y="839" font-size="9.4" fill="#000" textLength="48.5" lengthAdjust="spacingAndGlyphs" stroke="#000" stroke-width="0.18">5 Oct 12:00</text>
<text x="1220.2" y="839" font-size="9.4" fill="#000" textLength="48.5" lengthAdjust="spacingAndGlyphs" stroke="#000" stroke-width="0.18">6 Oct 04:00</text>
<text x="1284.2" y="839" font-size="9.4" fill="#000" textLength="48.5" lengthAdjust="spacingAndGlyphs" stroke="#000" stroke-width="0.18">6 Oct 20:00</text>
<g clip-path="url(#tbclip)">
<g shape-rendering="crispEdges">
<rect x="2" y="0" width="1" height="14" fill="#8a8a8a"/>
<rect x="238" y="0" width="1" height="14" fill="#a0a0a0"/>
<rect x="276" y="0" width="1" height="14" fill="#a0a0a0"/>
<rect x="333" y="0" width="1" height="14" fill="#a0a0a0"/>
<rect x="423" y="0" width="1" height="14" fill="#a0a0a0"/>
<rect x="428" y="0" width="1" height="14" fill="#a0a0a0"/>
<rect x="456" y="0" width="1" height="14" fill="#a0a0a0"/>
<rect x="485" y="0" width="1" height="14" fill="#a0a0a0"/>
<rect x="606" y="0" width="1" height="14" fill="#a0a0a0"/>
<rect x="616" y="0" width="1" height="14" fill="#a0a0a0"/>
<rect x="673" y="0" width="1" height="14" fill="#a0a0a0"/>
<rect x="912" y="0" width="1" height="14" fill="#a0a0a0"/>
<rect x="1062" y="0" width="1" height="14" fill="#a0a0a0"/>
<rect x="1173" y="0" width="1" height="14" fill="#a0a0a0"/>
<rect x="242" y="0" width="4" height="1" fill="#b4b4b4"/>
<rect x="242" y="2" width="4" height="1" fill="#b4b4b4"/>
<rect x="242" y="4" width="4" height="1" fill="#b4b4b4"/>
<rect x="242" y="6" width="4" height="1" fill="#b4b4b4"/>
<rect x="242" y="8" width="4" height="1" fill="#b4b4b4"/>
<rect x="242" y="10" width="4" height="1" fill="#b4b4b4"/>
<rect x="242" y="12" width="4" height="1" fill="#b4b4b4"/>
<rect x="610" y="0" width="4" height="1" fill="#b4b4b4"/>
<rect x="610" y="2" width="4" height="1" fill="#b4b4b4"/>
<rect x="610" y="4" width="4" height="1" fill="#b4b4b4"/>
<rect x="610" y="6" width="4" height="1" fill="#b4b4b4"/>
<rect x="610" y="8" width="4" height="1" fill="#b4b4b4"/>
<rect x="610" y="10" width="4" height="1" fill="#b4b4b4"/>
<rect x="610" y="12" width="4" height="1" fill="#b4b4b4"/>
<rect x="916" y="0" width="4" height="1" fill="#b4b4b4"/>
<rect x="916" y="2" width="4" height="1" fill="#b4b4b4"/>
<rect x="916" y="4" width="4" height="1" fill="#b4b4b4"/>
<rect x="916" y="6" width="4" height="1" fill="#b4b4b4"/>
<rect x="916" y="8" width="4" height="1" fill="#b4b4b4"/>
<rect x="916" y="10" width="4" height="1" fill="#b4b4b4"/>
<rect x="916" y="12" width="4" height="1" fill="#b4b4b4"/>
<rect x="277" y="0" width="25" height="14" fill="#f8f8f8"/>
<rect x="430" y="0" width="24" height="14" fill="#f8f8f8"/>
<rect x="457" y="0" width="25" height="14" fill="#f8f8f8"/>
<rect x="617" y="0" width="25" height="14" fill="#f8f8f8"/>
<rect x="1063" y="0" width="25" height="14" fill="#f8f8f8"/>
</g>
<path d="M12.5,-2 h11 v11.5 h-11 z" fill="#fff" stroke="#8a8a8a" stroke-width="1"/>
<path d="M14,2.5 h7 M14,4.5 h5 M14,6.5 h3" stroke="#8a8a8a" stroke-width="1"/>
<path d="M20.6,2.4 h3.3 v4.2 h3.8 v3.2 h-3.8 v3.8 h-3.3 v-3.8 h-4.2 v-3.2 h4.2 z" fill="#3be83b" stroke="#0b960b" stroke-width="0.9"/><path d="M22.25,3.4 v9.2 M17.4,8.2 h9.4" stroke="#9dff9d" stroke-width="0.9" opacity="0.8"/>
<text x="30.5" y="7.0" font-size="12" fill="#000" textLength="36.5" lengthAdjust="spacingAndGlyphs">新订单</text>
<defs><linearGradient id="gbk" x1="0" y1="0" x2="1" y2="1"><stop offset="0" stop-color="#c8900c"/><stop offset="0.45" stop-color="#f0c830"/><stop offset="1" stop-color="#fbe98c"/></linearGradient><linearGradient id="gcl" x1="0" y1="0" x2="0" y2="1"><stop offset="0" stop-color="#ffffff"/><stop offset="1" stop-color="#c4d0e6"/></linearGradient><radialGradient id="grd" cx="0" cy="0.4" r="1"><stop offset="0" stop-color="#b8dcb8"/><stop offset="1" stop-color="#2f9a2f"/></radialGradient></defs>
<path d="M78.9,5.6 L87.4,12 L95.2,6.3 L95.2,4.6 L87.4,10.2 L78.9,4.2 Z" fill="#a8700e"/>
<path d="M79.6,5.6 L87.4,11 L94.6,5.9" fill="none" stroke="#f4e6b0" stroke-width="0.7"/>
<path d="M78.9,4.4 L84,-2 L89,-2 L92,1.2 L95.2,4.8 L87.4,10.4 Z" fill="url(#gbk)" stroke="#b07c10" stroke-width="0.6"/>
<rect x="109.4" y="-2" width="10.4" height="7" fill="#1e8ff0" stroke="#1a78d8" stroke-width="0.8"/>
<path d="M112.8,-2 V4.5 M114.5,1 h4 M114.5,3 h4" stroke="#cfe6ff" stroke-width="0.9" fill="none"/>
<path d="M109.6,11.5 a2.9,2.9 0 0 1 -0.4,-5.7 a3.3,3.3 0 0 1 3,-0.6 a3.9,3.9 0 0 1 6.6,0.2 a3,3 0 0 1 1.6,6.1 z" fill="url(#gcl)" stroke="#5c7ab4" stroke-width="1"/>
<path d="M143.2,4 L143.2,11.9 A7.9,7.9 0 0 0 149.2,-1.2 Z" fill="url(#grd)" opacity="0.85"/>
<path d="M141.2,-3.3 A7.6,7.6 0 0 0 141.8,11.5" fill="none" stroke="#7fa0e0" stroke-width="1" opacity="0.7"/>
<path d="M141.5,-1 A5.3,5.3 0 0 0 142,9.2" fill="none" stroke="#5a84dc" stroke-width="1.1"/>
<path d="M142,1.3 A3,3 0 0 0 142.2,6.9" fill="none" stroke="#3a6ad4" stroke-width="1.1"/>
<path d="M145,-0.5 A4.6,4.6 0 0 1 147.7,4.8 M146.5,-2.5 A7,7 0 0 1 150.2,4.5" fill="none" stroke="#e8f4e8" stroke-width="0.8" opacity="0.8"/>
<circle cx="143.1" cy="3.6" r="1.6" fill="#2456c8"/>
<path d="M143.3,4.5 V11.8" stroke="#18a018" stroke-width="1.3"/>
<ellipse cx="170.1" cy="-0.3" rx="7.7" ry="3" fill="#58a8e4" stroke="#2a80c8" stroke-width="1"/>
<path d="M162.6,1.6 L169.6,11.6 L177.6,1.6 Z" fill="#f6de5c" stroke="#d0ac20" stroke-width="0.8"/>
<circle cx="174.3" cy="7.8" r="3.7" fill="#e22a1a" stroke="#b4180a" stroke-width="1"/>
<rect x="172.9" y="6.4" width="2.9" height="2.9" fill="#fff"/>
<text x="183.5" y="7.0" font-size="12" fill="#000" textLength="47" lengthAdjust="spacingAndGlyphs">自动交易</text>
<path d="M256.5,-1 V12 M254,9.5 H267" stroke="#5a5a5a" stroke-width="1" fill="none" shape-rendering="crispEdges"/>
<path d="M265,7.5 L268,9.5 L265,11.5 Z" fill="#5a5a5a"/>
<path d="M260,6.6 h2.6 V0.8 h2.6" stroke="#0a8a0a" stroke-width="1.15" fill="none"/>
<path d="M284.5,-1 V12 M282,9.5 H295" stroke="#5a5a5a" stroke-width="1" fill="none" shape-rendering="crispEdges"/>
<path d="M293,7.5 L296,9.5 L293,11.5 Z" fill="#5a5a5a"/>
<rect x="288.5" y="-2" width="4" height="8" fill="#10c010" stroke="#0a7a0a" stroke-width="1"/>
<path d="M290.5,6 v2.5" stroke="#0a7a0a" stroke-width="1"/>
<path d="M312.5,-1 V12 M310,9.5 H323" stroke="#5a5a5a" stroke-width="1" fill="none" shape-rendering="crispEdges"/>
<path d="M321,7.5 L324,9.5 L321,11.5 Z" fill="#5a5a5a"/>
<path d="M311.4,6.6 C313.5,3.6 316,1 318,1.2 C320,1.4 321,4 322.7,5" stroke="#1a8a1a" stroke-width="1.1" fill="none"/>
<path d="M351.0,5 L357.0,11" stroke="#c8a020" stroke-width="3" stroke-linecap="round"/>
<path d="M351.3,5.2 L356.7,10.6" stroke="#f0d878" stroke-width="1"/>
<circle cx="347.5" cy="1.5" r="5.2" fill="#cfe6fa" stroke="#4a8fd0" stroke-width="1.3"/>
<path d="M344.7,1.5 h5.6" stroke="#2f6fc0" stroke-width="1.6"/>
<path d="M347.5,-1.3 v5.6" stroke="#2f6fc0" stroke-width="1.6"/>
<path d="M379.5,5 L385.5,11" stroke="#c8a020" stroke-width="3" stroke-linecap="round"/>
<path d="M379.8,5.2 L385.2,10.6" stroke="#f0d878" stroke-width="1"/>
<circle cx="376" cy="1.5" r="5.2" fill="#cfe6fa" stroke="#4a8fd0" stroke-width="1.3"/>
<path d="M373.2,1.5 h5.6" stroke="#2f6fc0" stroke-width="1.6"/>
<rect x="398.6" y="-2" width="7.2" height="4.6" fill="#3aa63a"/>
<rect x="399.70000000000005" y="-1.6" width="5.0" height="3.2" fill="#fff"/>
<rect x="399.70000000000005" y="-0.4" width="5.0" height="0.8" fill="#3aa63a"/>
<rect x="399.5" y="-1.0" width="1" height="1" fill="#e8f0ff"/>
<rect x="406.7" y="-2" width="7.3" height="4.6" fill="#2f66d8"/>
<rect x="407.8" y="-1.6" width="5.1" height="3.2" fill="#fff"/>
<rect x="407.8" y="-0.4" width="5.1" height="0.8" fill="#2f66d8"/>
<rect x="407.59999999999997" y="-1.0" width="1" height="1" fill="#e8f0ff"/>
<rect x="398.6" y="3.9" width="7.2" height="7.8" fill="#2f66d8"/>
<rect x="399.70000000000005" y="7.5" width="5.0" height="3.2" fill="#fff"/>
<rect x="399.70000000000005" y="8.7" width="5.0" height="0.8" fill="#2f66d8"/>
<rect x="399.5" y="4.9" width="1" height="1" fill="#e8f0ff"/>
<rect x="406.7" y="3.9" width="7.3" height="7.8" fill="#3aa63a"/>
<rect x="407.8" y="7.5" width="5.1" height="3.2" fill="#fff"/>
<rect x="407.8" y="8.7" width="5.1" height="0.8" fill="#3aa63a"/>
<rect x="407.59999999999997" y="4.9" width="1" height="1" fill="#e8f0ff"/>
<path d="M436.5,-1 V12 M434,9.5 H447" stroke="#5a5a5a" stroke-width="1" fill="none" shape-rendering="crispEdges"/>
<path d="M445,7.5 L448,9.5 L445,11.5 Z" fill="#5a5a5a"/>
<path d="M441.5,0.5 L445.5,3.5 L441.5,6.5 Z" fill="#fff" stroke="#10a010" stroke-width="1.2"/>
<path d="M464.5,-1 V12 M462,9.5 H475" stroke="#5a5a5a" stroke-width="1" fill="none" shape-rendering="crispEdges"/>
<path d="M473,7.5 L476,9.5 L473,11.5 Z" fill="#5a5a5a"/>
<path d="M470.5,-1 V8" stroke="#2f62c0" stroke-width="1.2"/>
<path d="M476,3.5 h-4 M474,1.5 L471.8,3.5 L474,5.5" stroke="#d84010" stroke-width="1.2" fill="none"/>
<path d="M495.5,-2 h11 v11 h-11 z" fill="#fff" stroke="#8a8a8a" stroke-width="1"/>
<path d="M503.4,1.9 h3.3 v4.2 h3.8 v3.2 h-3.8 v3.8 h-3.3 v-3.8 h-4.2 v-3.2 h4.2 z" fill="#3be83b" stroke="#0b960b" stroke-width="0.9"/><path d="M505.05,2.9 v9.2 M500.2,7.7 h9.4" stroke="#9dff9d" stroke-width="0.9" opacity="0.8"/>
<path d="M517.0,3 h5.5 l-2.75,3 z" fill="#000"/>
<defs><linearGradient id="gck" x1="0" y1="0" x2="0" y2="1"><stop offset="0" stop-color="#4c94ea"/><stop offset="1" stop-color="#1450b4"/></linearGradient></defs>
<circle cx="540.8" cy="3.4" r="6.5" fill="#f2f4f8" stroke="url(#gck)" stroke-width="2.3"/>
<path d="M540.8,-0.5 V3.6 L543.6,4.6" stroke="#444" stroke-width="1.1" fill="none"/>
<path d="M536.6,3.4 h1 M544,3.4 h1 M540.8,7.6 v0.8" stroke="#8a9ab0" stroke-width="0.8" fill="none"/>
<path d="M556.0,3 h5.5 l-2.75,3 z" fill="#000"/>
<rect x="572.9" y="-2" width="14.6" height="12.2" fill="#fff" stroke="#3878d8" stroke-width="1.3"/>
<path d="M573,5.5 h14" stroke="#3f7fd8" stroke-width="1"/>
<path d="M574.5,3.4 l3,-0.9 2,0.4 3,-1.5 2,0.4 2,-0.9" stroke="#a83010" stroke-width="1.3" fill="none"/>
<path d="M574.5,8.6 l3,-0.9 2,0.5 2,-1.5 2,1.4 2,-0.5" stroke="#0f8a0f" stroke-width="1.3" fill="none"/>
<path d="M595.0,3 h5.5 l-2.75,3 z" fill="#000"/>
<path d="M624.5,-3 V7.5 L627,5.2 L629.6,10.6 L631.4,9.8 L628.9,4.6 L632.4,4.4 Z" fill="#3c3c3c"/>
<path d="M656.5,-1 V11.5 M649,4.5 H664" stroke="#5a5a5a" stroke-width="1" shape-rendering="crispEdges"/>
<rect x="656" y="4" width="1" height="1" fill="#f0f0f0"/>
<path d="M690.5,-1 V11" stroke="#5a5a5a" stroke-width="1" shape-rendering="crispEdges"/>
<path d="M713,4.5 H725" stroke="#5a5a5a" stroke-width="1" shape-rendering="crispEdges"/>
<path d="M741,11 L753,-1" stroke="#5a5a5a" stroke-width="1.1"/>
<path d="M767,8 L780,-1 M769,11 L782,2 M771,3 l2,6 M775,0.5 l2,6" stroke="#5a5a5a" stroke-width="1" fill="none"/>
<text x="778" y="12.6" font-size="6.5" fill="#111" textLength="4.2" lengthAdjust="spacingAndGlyphs" font-weight="bold">E</text>
<path d="M796,0.5 H809 M796,4.5 H809 M796,8.5 H805" stroke="#5a5a5a" stroke-width="1" stroke-dasharray="1 1" shape-rendering="crispEdges"/>
<text x="806" y="12.6" font-size="6.5" fill="#111" textLength="4" lengthAdjust="spacingAndGlyphs" font-weight="bold">F</text>
<text x="826.5" y="8.5" font-size="13" fill="#505050" textLength="8.5" lengthAdjust="spacingAndGlyphs">A</text>
<rect x="853.5" y="-1.5" width="11" height="12" fill="none" stroke="#5a5a5a" stroke-width="1" stroke-dasharray="1 1" shape-rendering="crispEdges"/>
<text x="855" y="8.5" font-size="11.5" fill="#505050" textLength="8" lengthAdjust="spacingAndGlyphs">T</text>
<path d="M881,0 l3,-2.5 3,2.5 -3,2.5 z" fill="#444"/>
<path d="M882,4.5 l2.5,3 L890,1" stroke="#444" stroke-width="1.4" fill="none"/>
<path d="M888,7.5 l3.2,-2.8 3.2,2.8 -3.2,2.8 z" fill="#444"/>
<path d="M901.0,3 h5.5 l-2.75,3 z" fill="#000"/>
<text x="927.4" y="8" font-size="10.2" fill="#444" textLength="13.0" lengthAdjust="spacingAndGlyphs">M1</text>
<text x="955.7" y="8" font-size="10.2" fill="#444" textLength="13.1" lengthAdjust="spacingAndGlyphs">M5</text>
<text x="981.3" y="8" font-size="10.2" fill="#444" textLength="17.9" lengthAdjust="spacingAndGlyphs">M15</text>
<text x="1009" y="8" font-size="10.2" fill="#444" textLength="18" lengthAdjust="spacingAndGlyphs">M30</text>
<text x="1041" y="8" font-size="10.2" fill="#444" textLength="11.8" lengthAdjust="spacingAndGlyphs">H1</text>
<text x="1067.5" y="8" font-size="10.2" fill="#444" textLength="12.5" lengthAdjust="spacingAndGlyphs">H4</text>
<text x="1096" y="8" font-size="10.2" fill="#444" textLength="12.7" lengthAdjust="spacingAndGlyphs">D1</text>
<text x="1124" y="8" font-size="10.2" fill="#444" textLength="14.5" lengthAdjust="spacingAndGlyphs">W1</text>
<text x="1151" y="8" font-size="10.2" fill="#444" textLength="15" lengthAdjust="spacingAndGlyphs">MN</text>
<path d="M1640.6,4.4 L1636,9" stroke="#2460d4" stroke-width="2.6" stroke-linecap="round"/>
<circle cx="1643.6" cy="1.3" r="4.1" fill="#f4f7fc" stroke="#2a62d8" stroke-width="1.3"/>
<path d="M1666,1.2 a5.8,4.6 0 1 0 0.01,0 z M1663.6,9.6 l-1.2,3 3.4,-2.4" fill="#e4e4ee" stroke="#a8a8a8" stroke-width="0.9"/>
<circle cx="1674.3" cy="1.4" r="8.1" fill="#dc391f"/>
 <text x="1673.4" y="6" font-size="13" fill="#fff" stroke="#fff" stroke-width="0.3" text-anchor="middle" font-family='"Liberation Serif", serif'>1</text>
</g>
</svg>
</body></html>
